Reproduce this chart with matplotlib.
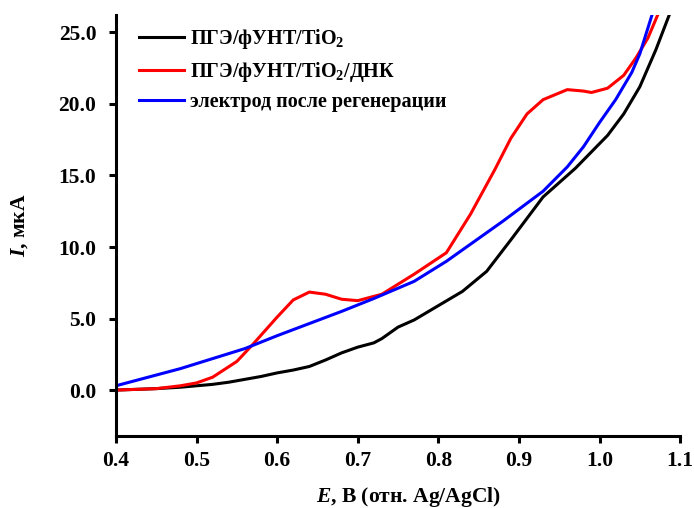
import numpy as np
import matplotlib
matplotlib.use('Agg')
import matplotlib.pyplot as plt

plt.rcParams['font.family'] = ['Liberation Serif', 'DejaVu Serif']
plt.rcParams['font.weight'] = 'bold'
plt.rcParams['mathtext.fontset'] = 'custom'
plt.rcParams['mathtext.rm'] = 'Liberation Serif:bold'
plt.rcParams['mathtext.bf'] = 'Liberation Serif:bold'
plt.rcParams['mathtext.it'] = 'Liberation Serif:italic:bold'

# ПГЭ/фУНТ/TiO2
E_black = [0.40, 0.45, 0.48, 0.50, 0.52, 0.54, 0.56, 0.58, 0.60, 0.62, 0.64, 0.66,
           0.68, 0.70, 0.72, 0.73, 0.75, 0.77, 0.80, 0.83, 0.86, 0.89, 0.93, 0.97,
           1.01, 1.03, 1.05, 1.07, 1.085, 1.10]
I_black = [0.0, 0.1, 0.2, 0.3, 0.4, 0.55, 0.75, 0.95, 1.2, 1.4, 1.65, 2.1,
           2.6, 3.0, 3.3, 3.6, 4.4, 4.9, 5.9, 6.9, 8.3, 10.5, 13.5, 15.5,
           17.8, 19.3, 21.2, 23.8, 26.0, 28.2]

# ПГЭ/фУНТ/TiO2/ДНК
E_red = [0.40, 0.45, 0.48, 0.50, 0.52, 0.55, 0.57, 0.60, 0.62, 0.64, 0.66, 0.68, 0.70,
         0.73, 0.77, 0.81, 0.84, 0.87, 0.89, 0.91, 0.93, 0.96, 0.98, 0.99, 1.01,
         1.03, 1.045, 1.06, 1.075, 1.09]
I_red = [0.0, 0.1, 0.3, 0.5, 0.9, 2.0, 3.2, 5.1, 6.3, 6.85, 6.7, 6.35, 6.25,
         6.7, 8.1, 9.6, 12.3, 15.4, 17.6, 19.3, 20.3, 21.0, 20.9, 20.8, 21.1,
         22.0, 23.2, 24.6, 26.6, 28.6]

# электрод после регенерации
E_blue = [0.40, 0.44, 0.48, 0.52, 0.56, 0.60, 0.64, 0.68, 0.72, 0.77, 0.81,
          0.85, 0.88, 0.93, 0.96, 0.98, 1.00, 1.02, 1.04, 1.05, 1.065, 1.08]
I_blue = [0.3, 0.9, 1.5, 2.2, 2.9, 3.8, 4.65, 5.5, 6.4, 7.6, 9.0,
          10.6, 11.8, 13.9, 15.6, 17.0, 18.7, 20.3, 22.2, 23.5, 26.2, 28.8]

fig = plt.figure(figsize=(6.94, 5.08), dpi=100)
ax = fig.add_axes([0.167, 0.142, 0.813, 0.828])

ax.plot(E_black, I_black, color='black', lw=2.2, label='ПГЭ/фУНТ/TiO$_2$')
ax.plot(E_red, I_red, color='#ff0000', lw=2.2, label='ПГЭ/фУНТ/TiO$_2$/ДНК')
ax.plot(E_blue, I_blue, color='#0000ff', lw=2.2, label='электрод после регенерации')

ax.set_xlim(0.4, 1.1)
ax.set_ylim(-3.2, 26.2)
ax.set_xticks(np.arange(0.4, 1.11, 0.1))
ax.set_xticklabels(['0.4', '0.5', '0.6', '0.7', '0.8', '0.9', '1.0', '1.1'])
ax.set_yticks([0, 5, 10, 15, 20, 25])
ax.set_yticklabels(['0.0', '5.0', '10.0', '15.0', '20.0', '25.0'])

for s in ['top', 'right']:
    ax.spines[s].set_visible(False)
for s in ['left', 'bottom']:
    ax.spines[s].set_linewidth(2.2)
ax.tick_params(direction='out', length=5, width=2.2, labelsize=15.5)
ax.tick_params(axis='x', pad=6)
ax.tick_params(axis='y', pad=9)

ax.set_xlabel('$E$, В (отн. Ag/AgCl)', fontsize=15.5, fontweight='bold')
ax.set_ylabel('$I$, мкА', fontsize=15.5, fontweight='bold')
ax.xaxis.set_label_coords(0.518, -0.117)
ax.yaxis.set_label_coords(-0.152, 0.5)

leg = ax.legend(loc='upper left', frameon=False, fontsize=14.5, handlelength=2.2,
                handletextpad=0.3, labelspacing=0.42, borderaxespad=0.2,
                bbox_to_anchor=(0.02, 1.0))

fig.savefig('out.png', dpi=100)
